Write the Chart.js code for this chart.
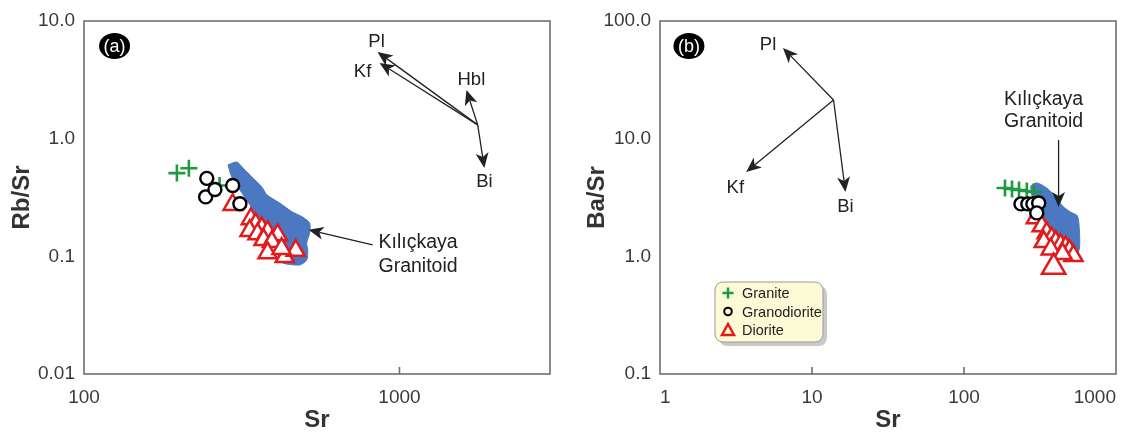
<!DOCTYPE html>
<html>
<head>
<meta charset="utf-8">
<script src="https://cdn.jsdelivr.net/npm/chart.js@4.4.0/dist/chart.umd.min.js"></script>
<style>
  body { margin: 0; background: #fff; }
  #wrap { position: relative; width: 1132px; height: 432px; }
  canvas { position: absolute; top: 0; }
  #chart-a { left: 0; }
  #chart-b { left: 566px; }
</style>
</head>
<body>
<div id="wrap">
  <canvas id="chart-a" width="566" height="432"></canvas>
  <canvas id="chart-b" width="566" height="432"></canvas>
</div>
<script>
// ---- panel (a): Rb/Sr vs Sr ----
const graniteSrA = [197, 215, 269];
const graniteRbSr = [0.51, 0.56, 0.40];
const granodioriteSrA = [245, 243, 260, 296, 312];
const granodioriteRbSr = [0.46, 0.32, 0.37, 0.40, 0.28];
const dioriteSrA = [296, 338, 350, 366, 335, 355, 382, 411, 371, 394, 382, 433, 469, 423];
const dioriteRbSr = [0.275, 0.208, 0.189, 0.174, 0.165, 0.155, 0.162, 0.152, 0.138, 0.133, 0.107, 0.099, 0.112, 0.116];
const fieldSrA = [286, 305, 319, 343, 366, 380, 417, 458, 493, 519, 519, 508, 512, 508, 483, 426, 417, 395, 350, 312, 294, 286];
const fieldRbSrA = [0.598, 0.634, 0.564, 0.464, 0.389, 0.333, 0.284, 0.238, 0.216, 0.192, 0.158, 0.130, 0.113, 0.093, 0.0845, 0.0879, 0.0989, 0.158, 0.234, 0.366, 0.473, 0.598];
const xTicksA = [100, 1000];
const xLabelsA = ['100', '1000'];
const yTicksA = [0.01, 0.1, 1, 10];
const yLabelsA = ['0.01', '0.1', '1.0', '10.0'];

// ---- panel (b): Ba/Sr vs Sr ----
const graniteSrB = [186, 207, 230, 259, 288];
const graniteBaSr = [3.81, 3.74, 3.66, 3.59, 3.53];
const granodioriteSrB = [237, 263, 284, 310, 301];
const granodioriteBaSr = [2.79, 2.79, 2.79, 2.84, 2.34];
const dioriteSrB = [297, 325, 350, 377, 335, 401, 432, 466, 494, 372, 525, 445, 389];
const dioriteBaSr = [2.12, 1.81, 1.58, 1.43, 1.33, 1.33, 1.25, 1.20, 1.12, 1.15, 1.01, 1.05, 0.81];
const fieldSrB = [275, 301, 350, 395, 445, 502, 558, 575, 575, 549, 487, 419, 350, 301, 279, 275];
const fieldBaSr = [3.96, 4.21, 3.81, 3.26, 2.68, 2.38, 2.20, 1.61, 1.18, 1.01, 0.97, 1.27, 1.88, 2.73, 3.33, 3.96];
const xTicksB = [1, 10, 100, 1000];
const xLabelsB = ['1', '10', '100', '1000'];
const yTicksB = [0.1, 1, 10, 100];
const yLabelsB = ['0.1', '1.0', '10.0', '100.0'];

// mineral vectors: [label, tip x, tip y, label x, label y]
const vectorOriginA = [1770, 1.31];
const vectorsA = [
  ['Pl', 852, 5.46, 846, 6.63],
  ['Kf', 865, 4.40, 764, 3.69],
  ['Hbl', 1630, 2.59, 1690, 3.15],
  ['Bi', 1858, 0.564, 1858, 0.43],
];
const vectorOriginB = [13.86, 21.3];
const vectorsB = [
  ['Pl', 6.44, 59.0, 5.14, 62.5],
  ['Kf', 3.69, 5.21, 3.13, 3.81],
  ['Bi', 16.6, 3.53, 16.6, 2.63],
];

const GREEN = '#1f9a41';
const RED = '#e31a1c';
const BLUE = '#4b78c0';
const INK = '#222';
const FONT = '"Liberation Sans", Arial, sans-serif';

const zip = (xs, ys) => xs.map((x, i) => ({ x: x, y: ys[i] }));

function arrow(ctx, x0, y0, x1, y1) {
  const ang = Math.atan2(y1 - y0, x1 - x0);
  const len = 15, half = 6.5, notch = 11;
  ctx.beginPath();
  ctx.moveTo(x0, y0);
  ctx.lineTo(x1 - Math.cos(ang) * notch, y1 - Math.sin(ang) * notch);
  ctx.stroke();
  ctx.save();
  ctx.translate(x1, y1);
  ctx.rotate(ang);
  ctx.beginPath();
  ctx.moveTo(0, 0);
  ctx.lineTo(-len, -half);
  ctx.lineTo(-notch, 0);
  ctx.lineTo(-len, half);
  ctx.closePath();
  ctx.fill();
  ctx.restore();
}

function marker(ctx, kind, x, y) {
  ctx.beginPath();
  if (kind === 'cross') {
    ctx.strokeStyle = GREEN; ctx.lineWidth = 2.5;
    ctx.moveTo(x - 5.5, y); ctx.lineTo(x + 5.5, y);
    ctx.moveTo(x, y - 5.5); ctx.lineTo(x, y + 5.5);
  } else if (kind === 'circle') {
    ctx.strokeStyle = '#000'; ctx.lineWidth = 2;
    ctx.arc(x, y, 3.8, 0, Math.PI * 2);
  } else {
    ctx.strokeStyle = RED; ctx.lineWidth = 2.5;
    ctx.moveTo(x, y - 6); ctx.lineTo(x + 6, y + 5); ctx.lineTo(x - 6, y + 5); ctx.closePath();
  }
  ctx.stroke();
}

function roundRect(ctx, x, y, w, h, r) {
  ctx.beginPath();
  ctx.moveTo(x + r, y);
  ctx.arcTo(x + w, y, x + w, y + h, r);
  ctx.arcTo(x + w, y + h, x, y + h, r);
  ctx.arcTo(x, y + h, x, y, r);
  ctx.arcTo(x, y, x + w, y, r);
  ctx.closePath();
}

const overlay = {
  id: 'overlay',
  afterDraw(chart, args, o) {
    const { ctx, chartArea: a } = chart;
    const px = (v) => chart.scales.x.getPixelForValue(v);
    const py = (v) => chart.scales.y.getPixelForValue(v);
    ctx.save();
    ctx.strokeStyle = '#6f6f6f';
    ctx.lineWidth = 1.6;
    ctx.strokeRect(a.left, a.top, a.right - a.left, a.bottom - a.top);
    o.innerTicks.forEach((v) => {
      ctx.beginPath();
      ctx.moveTo(px(v), a.bottom);
      ctx.lineTo(px(v), a.bottom - 7);
      ctx.stroke();
    });

    ctx.strokeStyle = INK;
    ctx.fillStyle = INK;
    ctx.lineWidth = 1.3;
    const [ox, oy] = o.origin;
    o.vectors.forEach((v) => arrow(ctx, px(ox), py(oy), px(v[1]), py(v[2])));
    o.arrows.forEach((v) => arrow(ctx, px(v[0]), py(v[1]), px(v[2]), py(v[3])));

    ctx.textBaseline = 'middle';
    ctx.textAlign = 'center';
    ctx.font = '18.5px ' + FONT;
    o.vectors.forEach((v) => ctx.fillText(v[0], px(v[3]), py(v[4])));
    ctx.font = '19.5px ' + FONT;
    o.texts.forEach((t) => {
      ctx.textAlign = t[3];
      ctx.fillText(t[0], px(t[1]), py(t[2]));
    });

    // panel tag
    const tx = px(o.tag[1]), ty = py(o.tag[2]);
    ctx.fillStyle = '#000';
    ctx.beginPath();
    ctx.ellipse(tx, ty, 15.5, 13, 0, 0, Math.PI * 2);
    ctx.fill();
    ctx.fillStyle = '#fff';
    ctx.textAlign = 'center';
    ctx.font = '18px ' + FONT;
    ctx.fillText(o.tag[0], tx, ty + 1);

    if (o.legend) {
      const lx = a.left + 55, ly = a.top + 261;
      ctx.fillStyle = '#c9c9c9';
      roundRect(ctx, lx + 4, ly + 4, 108, 60, 8);
      ctx.fill();
      ctx.fillStyle = '#fdfad6';
      ctx.strokeStyle = '#9a9a9a';
      ctx.lineWidth = 1;
      roundRect(ctx, lx, ly, 108, 60, 8);
      ctx.fill();
      ctx.stroke();
      ctx.font = '14.5px ' + FONT;
      ctx.textAlign = 'left';
      o.legend.forEach((item, i) => {
        const yy = ly + 11 + i * 18.5;
        marker(ctx, item[1], lx + 13, yy);
        ctx.fillStyle = INK;
        ctx.fillText(item[0], lx + 27, yy + 1);
      });
    }
    ctx.restore();
  },
};

const logAxis = (min, max, values, labels, title, fit) => ({
  type: 'logarithmic',
  min: min,
  max: max,
  grid: { display: false, drawTicks: false },
  border: { display: false },
  afterBuildTicks: (s) => {
    s.ticks = values.map((v) => ({ value: v }));
  },
  afterFit: fit,
  ticks: {
    autoSkip: false,
    maxRotation: 0,
    color: '#3a3a3a',
    font: { family: FONT, size: 19 },
    callback: (v) => labels[values.indexOf(v)],
  },
  title: {
    display: true,
    text: title,
    color: '#333',
    font: { family: FONT, size: 24, weight: 'bold', lineHeight: 1 },
  },
});

const makeDatasets = (gr, gd, di, field, big) => [
  {
    label: 'Granodiorite',
    data: gd,
    pointStyle: 'circle',
    pointRadius: 6.5,
    borderColor: '#000',
    backgroundColor: '#fff',
    borderWidth: 2.4,
    order: 1,
  },
  {
    label: 'Granite',
    data: gr,
    pointStyle: 'cross',
    pointRadius: 8.5,
    borderColor: GREEN,
    borderWidth: 2.6,
    order: 2,
  },
  {
    label: 'Diorite',
    data: di,
    pointStyle: 'triangle',
    pointRadius: (c) => (big && c.dataIndex === di.length - 1 ? 13.5 : 10.5),
    borderColor: RED,
    backgroundColor: '#fff',
    borderWidth: 2.5,
    order: 3,
  },
  {
    type: 'line',
    label: 'Kılıçkaya Granitoid',
    data: field,
    borderColor: BLUE,
    backgroundColor: BLUE,
    borderWidth: 1,
    pointRadius: 0,
    tension: 0.25,
    fill: 'shape',
    order: 4,
  },
];

const initChartA = () => {
  const config = {
    type: 'scatter',
    data: {
      datasets: makeDatasets(
        zip(graniteSrA, graniteRbSr),
        zip(granodioriteSrA, granodioriteRbSr),
        zip(dioriteSrA, dioriteRbSr),
        zip(fieldSrA, fieldRbSrA),
        false
      ),
    },
    options: {
      responsive: false,
      animation: false,
      events: [],
      layout: { padding: { top: 21, right: 16, left: 0, bottom: 0 } },
      scales: {
        x: logAxis(100, 3000, xTicksA, xLabelsA, 'Sr', (s) => { s.height = 58; }),
        y: logAxis(0.01, 10, yTicksA, yLabelsA, 'Rb/Sr', (s) => { s.width = 84; }),
      },
      plugins: {
        legend: { display: false },
        tooltip: { enabled: false },
        overlay: {
          innerTicks: [1000],
          origin: vectorOriginA,
          vectors: vectorsA,
          arrows: [[822, 0.125, 515, 0.168]],
          texts: [
            ['Kılıçkaya', 858, 0.130, 'left'],
            ['Granitoid', 858, 0.0825, 'left'],
          ],
          tag: ['(a)', 125, 6.13],
        },
      },
    },
    plugins: [overlay],
  };
  config.options.scales.x.ticks.padding = 12;
  config.options.scales.y.ticks.padding = 9;
  config.options.scales.y.title.padding = { top: 10, bottom: 0 };
  config.options.scales.x.title.padding = { top: 0, bottom: 0 };
  return new Chart(document.getElementById('chart-a'), config);
};

const initChartB = () => {
  const config = {
    type: 'scatter',
    data: {
      datasets: makeDatasets(
        zip(graniteSrB, graniteBaSr),
        zip(granodioriteSrB, granodioriteBaSr),
        zip(dioriteSrB, dioriteBaSr),
        zip(fieldSrB, fieldBaSr),
        true
      ),
    },
    options: {
      responsive: false,
      animation: false,
      events: [],
      layout: { padding: { top: 21, right: 12, left: 0, bottom: 0 } },
      scales: {
        x: logAxis(1, 1000, xTicksB, xLabelsB, 'Sr', (s) => { s.height = 58; }),
        y: logAxis(0.1, 100, yTicksB, yLabelsB, 'Ba/Sr', (s) => { s.width = 94; }),
      },
      plugins: {
        legend: { display: false },
        tooltip: { enabled: false },
        overlay: {
          innerTicks: [10, 100],
          origin: vectorOriginB,
          vectors: vectorsB,
          arrows: [[419, 9.75, 419, 2.63]],
          texts: [
            ['Kılıçkaya', 334, 21.3, 'center'],
            ['Granitoid', 334, 13.9, 'center'],
          ],
          tag: ['(b)', 1.55, 61.3],
          legend: [['Granite', 'cross'], ['Granodiorite', 'circle'], ['Diorite', 'triangle']],
        },
      },
    },
    plugins: [overlay],
  };
  config.options.scales.x.ticks.padding = 12;
  config.options.scales.x.ticks.align = 'inner';
  config.options.scales.y.ticks.padding = 9;
  config.options.scales.y.title.padding = { top: 19, bottom: 0 };
  config.options.scales.x.title.padding = { top: 0, bottom: 0 };
  return new Chart(document.getElementById('chart-b'), config);
};

const [chartA, chartB] = [initChartA(), initChartB()];
</script>
</body>
</html>
